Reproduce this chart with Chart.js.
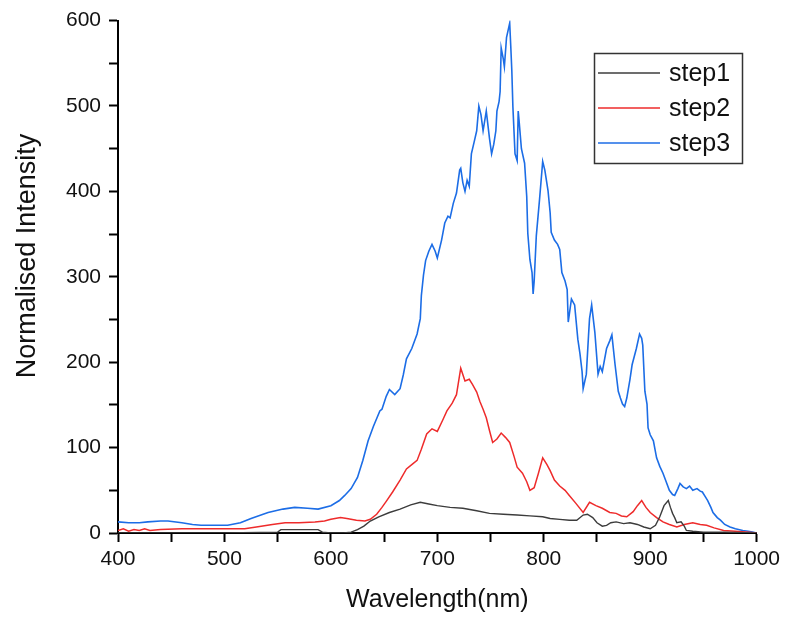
<!DOCTYPE html>
<html>
<head>
<meta charset="utf-8">
<script src="https://cdn.jsdelivr.net/npm/chart.js@4.4.1/dist/chart.umd.min.js"></script>
<style>
  html, body { margin: 0; padding: 0; background: #fff; }
  #wrap { width: 785px; height: 619px; }
</style>
</head>
<body>
<div id="wrap"><canvas id="spectra" width="785" height="619"></canvas></div>
<script>
// wavelength (nm) / intensity pairs
const step1Wl = [400, 450, 500, 550, 553, 570, 588, 592, 600, 612, 619, 625, 631, 637, 645, 655, 665, 675, 684, 692, 700, 712, 724, 737, 749, 762, 775, 787, 799, 806, 815, 824, 831, 837, 841, 846, 850, 855, 859, 863, 868, 875, 881, 888, 894, 900, 905, 909, 913, 917, 919, 921, 923, 925, 929, 932, 934, 940, 950, 970, 1000];
const step1Val = [0, 0, 0, 1, 4, 4, 4, 1, 0, 0, 1, 4, 8, 14, 19, 24, 28, 33, 36, 34, 32, 30, 29, 26, 23, 22, 21, 20, 19, 17, 16, 15, 15, 21, 22, 18, 12, 8, 9, 12, 13, 11, 12, 10, 7, 5, 9, 19, 32, 38, 30, 23, 18, 12, 13, 8, 3, 2, 1, 1, 0];

const step2Wl = [400, 405, 410, 415, 420, 425, 430, 440, 460, 480, 500, 519, 530, 545, 557, 570, 585, 594, 600, 609, 615, 624, 632, 637, 643, 648, 652, 658, 665, 671, 676, 681, 685, 690, 695, 700, 705, 709, 714, 718, 722, 726, 730, 733, 737, 740, 743, 746, 749, 752, 756, 760, 764, 768, 772, 775, 780, 784, 787, 791, 795, 799, 803, 806, 810, 815, 820, 824, 830, 837, 843, 849, 855, 862, 868, 873, 878, 884, 888, 892, 896, 900, 906, 912, 918, 925, 932, 940, 947, 953, 960, 969, 980, 993, 1000];
const step2Val = [3, 5, 2, 4, 3, 5, 3, 4, 5, 5, 5, 5, 7, 10, 12, 12, 13, 14, 16, 18, 17, 15, 14, 16, 22, 30, 37, 48, 62, 75, 80, 85, 98, 116, 122, 119, 132, 143, 152, 162, 193, 178, 180, 174, 165, 154, 145, 135, 120, 106, 110, 117, 112, 106, 90, 77, 70, 60, 50, 53, 70, 88, 80, 73, 62, 55, 50, 44, 35, 24, 36, 32, 29, 24, 23, 20, 19, 25, 32, 38, 30, 24, 18, 13, 10, 7, 10, 12, 10, 9, 6, 3, 2, 1, 0];

const step3Wl = [400, 410, 420, 428, 440, 447, 460, 470, 478, 490, 503, 515, 525, 541, 555, 566, 578, 588, 600, 608, 613, 619, 625, 630, 635, 640, 646, 648, 652, 655, 660, 665, 668, 671, 676, 681, 684, 685, 687, 689, 692, 695, 698, 700, 704, 707, 710, 712, 715, 718, 721, 722, 724, 726, 728, 730, 732, 735, 737, 739, 741, 743, 746, 749, 751, 753, 755, 756, 758, 759, 760, 762, 763, 765, 768, 769, 770, 771, 773, 775, 776, 777, 779, 782, 784, 785, 787, 789, 790, 791, 793, 796, 799, 801, 804, 806, 807, 810, 813, 815, 817, 820, 822, 823, 826, 829, 832, 834, 836, 837, 840, 842, 843, 845, 848, 851, 853, 855, 859, 862, 864, 867, 870, 872, 874, 876, 878, 881, 883, 887, 890, 892, 893, 895, 897, 898, 900, 903, 906, 909, 912, 915, 918, 921, 923, 926, 928, 931, 934, 937, 940, 944, 947, 949, 952, 954, 957, 959, 963, 966, 970, 975, 980, 987, 992, 996, 1000];
const step3Val = [13, 12, 12, 13, 14, 14, 12, 10, 9, 9, 9, 12, 17, 24, 28, 30, 29, 28, 32, 38, 44, 52, 65, 85, 108, 125, 143, 145, 160, 168, 162, 169, 185, 204, 216, 233, 251, 278, 302, 319, 330, 338, 330, 322, 343, 363, 371, 369, 386, 398, 425, 427, 410, 400, 413, 406, 444, 460, 471, 500, 490, 471, 494, 462, 444, 455, 471, 494, 505, 517, 568, 555, 546, 580, 597, 570, 541, 499, 444, 436, 494, 480, 450, 433, 394, 351, 320, 305, 280, 295, 348, 390, 435, 425, 401, 375, 352, 343, 338, 332, 305, 295, 285, 247, 274, 267, 227, 210, 189, 169, 186, 230, 251, 267, 235, 186, 195, 189, 216, 225, 232, 197, 166, 158, 151, 148, 158, 180, 197, 216, 233, 228, 220, 166, 151, 123, 115, 108, 88, 78, 70, 60, 50, 45, 44, 52, 58, 54, 52, 55, 50, 52, 49, 48, 42, 38, 30, 24, 18, 15, 10, 7, 5, 3, 2, 1, 0];

const seriesNames = ["step1", "step2", "step3"];
const seriesColors = ["#3c3c3c", "#ee2b2b", "#1c6de6"];

const FONT = "'Liberation Sans', Arial, sans-serif";

function pairs(xs, ys) {
  return xs.map((x, i) => ({ x: x, y: ys[i] }));
}

// boxed legend in the upper right, like the original plot
const boxLegend = {
  id: "boxLegend",
  afterDraw(chart) {
    const ctx = chart.ctx;
    ctx.save();
    ctx.strokeStyle = "#333";
    ctx.lineWidth = 1.5;
    ctx.strokeRect(594.5, 53.5, 148, 110);
    chart.data.datasets.forEach((ds, i) => {
      const y = 73 + i * 35;
      ctx.strokeStyle = ds.borderColor;
      ctx.lineWidth = 1.5;
      ctx.beginPath();
      ctx.moveTo(598, y);
      ctx.lineTo(660, y);
      ctx.stroke();
      ctx.fillStyle = "#111";
      ctx.font = "25px " + FONT;
      ctx.textBaseline = "middle";
      ctx.textAlign = "left";
      ctx.fillText(ds.label, 669, y + 1);
    });
    // rotated y-axis title
    const yTitle = chart.options.scales.y.title.text;
    ctx.translate(28, 256);
    ctx.rotate(-Math.PI / 2);
    ctx.textAlign = "center";
    ctx.textBaseline = "middle";
    ctx.font = "27px " + FONT;
    ctx.fillText(yTitle, 0, 0);
    ctx.restore();
  }
};

const ctx = document.getElementById("spectra").getContext("2d");

new Chart(ctx, {
  type: "line",
  data: {
    datasets: [
      { label: seriesNames[0], data: pairs(step1Wl, step1Val), borderColor: seriesColors[0], borderWidth: 1.4 },
      { label: seriesNames[1], data: pairs(step2Wl, step2Val), borderColor: seriesColors[1], borderWidth: 1.5 },
      { label: seriesNames[2], data: pairs(step3Wl, step3Val), borderColor: seriesColors[2], borderWidth: 1.6 },
    ],
  },
  options: {
    responsive: false,
    animation: false,
    devicePixelRatio: 1,
    elements: { point: { radius: 0 }, line: { tension: 0 } },
    layout: { padding: { top: 15, right: 28, left: 0, bottom: 0 } },
    plugins: {
      legend: { display: false },
      tooltip: { enabled: false },
    },
    scales: {
      x: {
        type: "linear",
        min: 400,
        max: 1000,
        afterFit: (s) => { s.height = 86; },
        ticks: {
          stepSize: 50,
          autoSkip: false,
          maxRotation: 0,
          padding: 5,
          color: "#111",
          font: { family: FONT, size: 21 },
          callback: (v) => (v % 100 === 0 ? v : ""),
        },
        grid: { drawOnChartArea: false, drawTicks: true, tickLength: 9, tickColor: "#000", tickWidth: 2 },
        border: { color: "#000", width: 2 },
        title: {
          display: true,
          text: "Wavelength(nm)",
          color: "#111",
          font: { family: FONT, size: 25 },
          padding: { top: 0, bottom: 4 },
        },
      },
      y: {
        min: 0,
        max: 600,
        afterFit: (s) => { s.width = 118; },
        ticks: {
          stepSize: 50,
          autoSkip: false,
          padding: 8,
          color: "#111",
          font: { family: FONT, size: 21 },
          callback: (v) => (v % 100 === 0 ? v : ""),
        },
        grid: { drawOnChartArea: false, drawTicks: true, tickLength: 9, tickColor: "#000", tickWidth: 2 },
        border: { color: "#000", width: 2 },
        title: { display: false, text: "Normalised Intensity" },
      },
    },
  },
  plugins: [boxLegend],
});
</script>
</body>
</html>
